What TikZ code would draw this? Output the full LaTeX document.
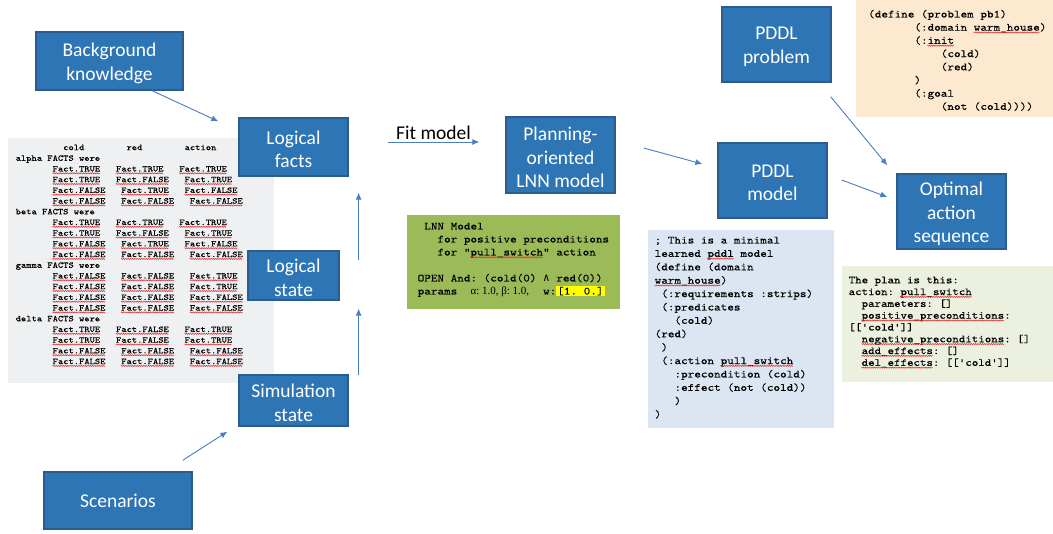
\documentclass[tikz,border=0pt]{standalone}
\usepackage{fontspec}
\usetikzlibrary{arrows.meta,decorations.pathmorphing}
\newfontfamily\carl{Carlito}
\newfontfamily\mono{Latin Modern Mono}[Ligatures=TeXOff, FakeStretch=1.143, FakeBold=0.2]
\newfontfamily\dvm{DejaVu Sans Mono}
\newfontfamily\lser{Liberation Serif}
\definecolor{boxblue}{HTML}{2E75B6}
\definecolor{boxedge}{HTML}{2C5C8F}
\definecolor{arrowblue}{HTML}{4A7EC0}
\definecolor{factgray}{HTML}{EFF0F2}
\definecolor{lnngreen}{HTML}{9BBB59}
\definecolor{pddlblue}{HTML}{DCE6F2}
\definecolor{plangreen}{HTML}{EBF1DE}
\definecolor{probpeach}{HTML}{FCE9CF}
\definecolor{squig}{HTML}{E03030}
\definecolor{hlyellow}{HTML}{FFFF00}
\newcommand\cw{\fontcharwd\font`M}
\newcommand\mset{\fontdimen2\font=\cw\relax\fontdimen3\font=0pt\relax\fontdimen4\font=0pt\relax\frenchspacing}
\newcommand\ind[1]{\hspace*{\dimexpr\cw*#1\relax}}
\newcommand\cell[2]{\makebox[\dimexpr\cw*#1\relax][l]{#2}}
\newcommand\FT{Fact.TRUE}
\newcommand\FF{Fact.FALSE}
\newcommand\hl[1]{{\setlength\fboxsep{1pt}\colorbox{hlyellow}{#1}}}
\newcommand\bs{\rule{0pt}{18.5pt}}
% squiggle under n characters starting at column c of line l of a code block
% args: x0, baseline0, char width, line spacing, line, col, nchars
\newcommand\sqw[7]{\draw[sqline] ({#1+#6*#3},{#2+#5*#4+2}) -- ++({#7*#3},0);}
\newcommand\sqrow[7]{\foreach \c/\n in {#2/#3,#4/#5,#6/#7}{\sqw{15.5}{149.92}{5.28}{10.7}{#1}{\c}{\n}}}
\tikzset{
  box/.style={rectangle, fill=boxblue, draw=boxedge, line width=1.3pt, text=white,
    font=\carl\fontsize{19.5}{23.5}\selectfont, align=center, inner sep=0pt},
  arr/.style={draw=arrowblue, line width=0.9pt, -{Latex[length=7pt,width=6pt]}},
  codetext/.style={anchor=north west, inner sep=0pt, align=left, text=black},
  sqline/.style={draw=squig, line width=0.45pt, decorate,
    decoration={zigzag, amplitude=0.6pt, segment length=1.8pt}}
}
\begin{document}
\begin{tikzpicture}[x=1pt,y=-1pt]
\useasboundingbox[fill=white] (0,0) rectangle (1053,534);
% panels
\fill[factgray] (8,138) rectangle (274,383);
\fill[lnngreen] (407,215) rectangle (620,309);
\fill[pddlblue] (648,230) rectangle (834,428);
\fill[plangreen] (842,266) rectangle (1053,382);
\fill[probpeach] (856,0) rectangle (1053,117);
% fact table
\node[codetext, font=\mono\fontsize{8.8}{10.7}\selectfont\mset] (facttable) at (15.5,142) {%
\rule{0pt}{0.9em}\ind{9}\cell{12}{cold}\cell{11}{red}action\\
alpha FACTS were\\
\ind{7}\cell{12}\FT\cell{12}\FT\FT\\
\ind{7}\cell{12}\FT\cell{13}\FF\FT\\
\ind{7}\cell{13}\FF\cell{12}\FT\FF\\
\ind{7}\cell{13}\FF\cell{13}\FF\FF\\
beta FACTS were\\
\ind{7}\cell{12}\FT\cell{12}\FT\FT\\
\ind{7}\cell{12}\FT\cell{13}\FF\FT\\
\ind{7}\cell{13}\FF\cell{12}\FT\FF\\
\ind{7}\cell{13}\FF\cell{13}\FF\FF\\
gamma FACTS were\\
\ind{7}\cell{13}\FF\cell{13}\FF\FT\\
\ind{7}\cell{13}\FF\cell{13}\FF\FT\\
\ind{7}\cell{13}\FF\cell{13}\FF\FF\\
\ind{7}\cell{13}\FF\cell{13}\FF\FF\\
delta FACTS were\\
\ind{7}\cell{12}\FT\cell{13}\FF\FT\\
\ind{7}\cell{12}\FT\cell{13}\FF\FT\\
\ind{7}\cell{13}\FF\cell{13}\FF\FF\\
\ind{7}\cell{13}\FF\cell{13}\FF\FF};
\sqrow{2}{7}{9}{19}{9}{31}{9}
\sqrow{3}{7}{9}{19}{10}{32}{9}
\sqrow{4}{7}{10}{20}{9}{32}{10}
\sqrow{5}{7}{10}{20}{10}{33}{10}
\sqrow{7}{7}{9}{19}{9}{31}{9}
\sqrow{8}{7}{9}{19}{10}{32}{9}
\sqrow{9}{7}{10}{20}{9}{32}{10}
\sqrow{10}{7}{10}{20}{10}{33}{10}
\sqrow{12}{7}{10}{20}{10}{33}{9}
\sqrow{13}{7}{10}{20}{10}{33}{9}
\sqrow{14}{7}{10}{20}{10}{33}{10}
\sqrow{15}{7}{10}{20}{10}{33}{10}
\sqrow{17}{7}{9}{19}{10}{32}{9}
\sqrow{18}{7}{9}{19}{10}{32}{9}
\sqrow{19}{7}{10}{20}{10}{33}{10}
\sqrow{20}{7}{10}{20}{10}{33}{10}
% LNN text
\node[codetext, font=\mono\fontsize{11}{13}\selectfont\mset] (lnntext) at (417.5,219.4) {%
\rule{0pt}{0.9em}\ind{1}LNN Model\\
\ind{3}for positive preconditions\\
\ind{3}for “pull\_switch” action\\
\mbox{}\\
OPEN And: (cold(0) {\dvm ∧} red(0))\\
params\ind{2}\makebox[72.6pt][l]{\lser α: 1.0, β: 1.0,}w:\hl{[1.~0.]}};
\sqw{417.5}{229.3}{6.6}{13}{2}{8}{11}
% PDDL model text
\node[codetext, font=\mono\fontsize{11}{13.4}\selectfont\mset] (pddltext) at (654.5,233.4) {%
\rule{0pt}{0.9em}; This is a minimal\\
learned pddl model\\
(define (domain\\
warm\_house)\\
\ind{1}(:requirements :strips)\\
\ind{1}(:predicates\\
\ind{3}(cold)\\
(red)\\
\ind{1})\\
\ind{1}(:action pull\_switch\\
\ind{3}:precondition (cold)\\
\ind{3}:effect (not (cold))\\
\ind{3})\\
)};
\sqw{654.5}{243.3}{6.6}{13.4}{1}{8}{4}
\sqw{654.5}{243.3}{6.6}{13.4}{3}{0}{10}
\sqw{654.5}{243.3}{6.6}{13.4}{9}{10}{11}
% plan text
\node[codetext, font=\mono\fontsize{10.8}{11.8}\selectfont\mset] (plantext) at (848.5,273.4) {%
\rule{0pt}{0.9em}The plan is this:\\
action: pull\_switch\\
\ind{2}parameters: []\\
\ind{2}positive\_preconditions:\\
{}[['cold']]\\
\ind{2}negative\_preconditions: []\\
\ind{2}add\_effects: []\\
\ind{2}del\_effects: [['cold']]};
\sqw{848.5}{283.1}{6.48}{11.8}{1}{8}{11}
\sqw{848.5}{283.1}{6.48}{11.8}{3}{2}{22}
\sqw{848.5}{283.1}{6.48}{11.8}{5}{2}{22}
\sqw{848.5}{283.1}{6.48}{11.8}{6}{2}{11}
\sqw{848.5}{283.1}{6.48}{11.8}{7}{2}{11}
% problem text
\node[codetext, font=\mono\fontsize{11}{13.2}\selectfont\mset] (probtext) at (868,7.4) {%
\rule{0pt}{0.9em}(define (problem pb1)\\
\ind{7}(:domain warm\_house)\\
\ind{7}(:init\\
\ind{11}(cold)\\
\ind{11}(red)\\
\ind{7})\\
\ind{7}(:goal\\
\ind{11}(not (cold))))};
\sqw{868}{17.3}{6.6}{13.2}{1}{16}{10}
\sqw{868}{17.3}{6.6}{13.2}{2}{9}{4}
% boxes
\node[box, minimum width=147pt, minimum height=58pt] (bg) at (109.5,61) {\bs Background\\knowledge};
\node[box, minimum width=109pt, minimum height=58pt] (facts) at (293.5,147) {\bs Logical\\facts};
\node[box, minimum width=91pt, minimum height=49pt] (lstate) at (293.5,275.5) {\bs Logical\\state};
\node[box, minimum width=109pt, minimum height=51pt] (sim) at (293.5,400.5) {\bs Simulation\\state};
\node[box, minimum width=148pt, minimum height=57pt] (scen) at (118,500.5) {\rule{0pt}{15pt}Scenarios};
\node[box, minimum width=109pt, minimum height=76pt] (lnn) at (560.5,155) {\bs Planning-\\oriented\\LNN model};
\node[box, minimum width=109pt, minimum height=75pt] (pddlm) at (772.5,180.5) {\rule{0pt}{17pt}PDDL\\model};
\node[box, minimum width=109pt, minimum height=75pt] (pddlp) at (776.5,44.5) {\rule{0pt}{17pt}PDDL\\problem};
\node[box, minimum width=109pt, minimum height=75pt] (opt) at (951.5,211.5) {\bs Optimal\\action\\sequence};
% arrows
\draw[arr] ([xshift=42.5pt]bg.south) -- ([xshift=-20pt,yshift=-4pt]facts.north west);
\draw[arr] ([xshift=39pt,yshift=5pt]facts.east) -- node[anchor=base, yshift=2.5pt, inner sep=0pt, text=black, font=\carl\fontsize{19.5}{23.5}\selectfont] (fitlabel) {Fit model} ([xshift=-26pt,yshift=13pt]lnn.west);
\draw[arr] ([xshift=28pt,yshift=7pt]lnn.east) -- ([xshift=-15pt,yshift=16.5pt]pddlm.west);
\draw[arr] ([xshift=19pt,yshift=15.5pt]lstate.east) -- ([xshift=10pt,yshift=-16pt]facts.south east);
\draw[arr] ([xshift=10pt,yshift=-1pt]sim.north east) -- ([xshift=19pt,yshift=-8pt]lstate.south east);
\draw[arr] ([xshift=-10pt,yshift=11pt]scen.north east) -- ([xshift=-11pt,yshift=-5pt]sim.south west);
\draw[arr] ([xshift=-1pt,yshift=-14pt]pddlp.south east) -- ([xshift=-9pt,yshift=8pt]opt.north west);
\draw[arr] ([xshift=14pt,yshift=0.5pt]pddlm.east) -- ([xshift=-9pt,yshift=14.5pt]opt.west);
\end{tikzpicture}
\end{document}
